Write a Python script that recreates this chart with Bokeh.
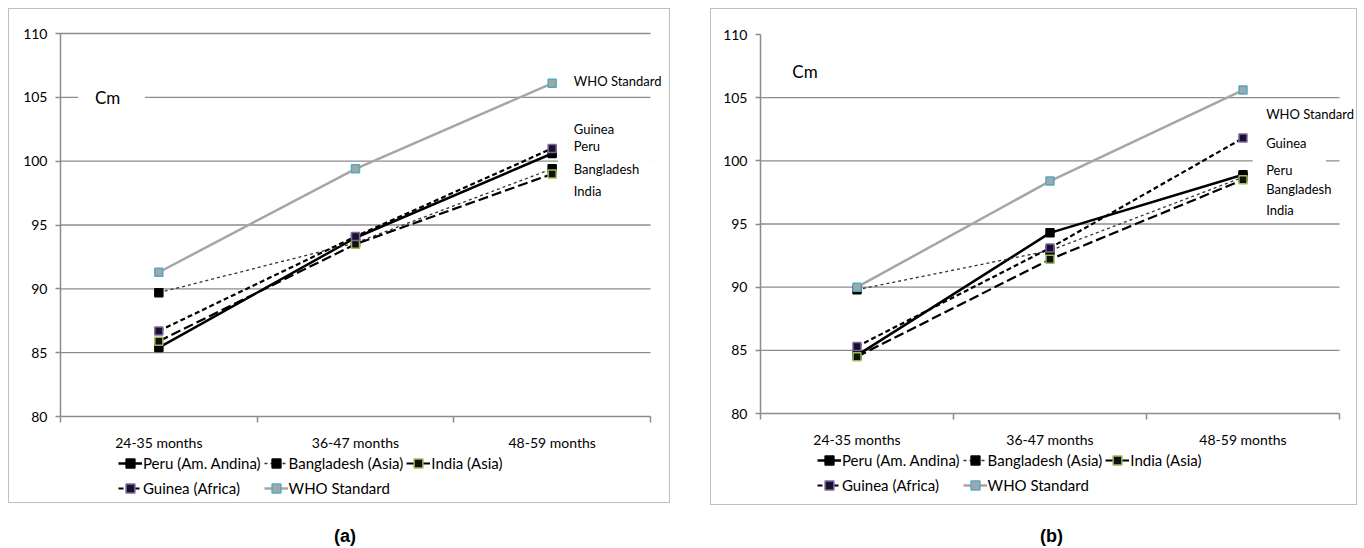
from bokeh.plotting import figure
from bokeh.models import (Range1d, FixedTicker, Legend, LegendItem, Label, BoxAnnotation,
                          Div, LinearAxis)
from bokeh.layouts import row, column
from bokeh.embed import file_html
from bokeh.resources import INLINE

categories = ["24-35 months", "36-47 months", "48-59 months"]
series_names = ["Peru (Am. Andina)", "Bangladesh (Asia)", "India (Asia)", "Guinea (Africa)", "WHO Standard"]
short_names = ["Peru", "Bangladesh", "India", "Guinea", "WHO Standard"]

# panel (a)
peru_a = [85.4, 94.0, 100.6]
bangladesh_a = [89.7, 93.6, 99.4]
india_a = [85.9, 93.5, 99.0]
guinea_a = [86.7, 94.1, 101.0]
who_a = [91.3, 99.4, 106.1]

# panel (b)
peru_b = [84.6, 94.3, 98.9]
bangladesh_b = [89.8, 92.9, 98.7]
india_b = [84.5, 92.2, 98.5]
guinea_b = [85.3, 93.1, 101.8]
who_b = [90.0, 98.4, 105.6]

y_ticks = [80, 85, 90, 95, 100, 105, 110]
Y_MIN, Y_MAX = 80, 110

FONT = "Lato"
GRID = "#8c8c8c"

styles = [
    dict(line_color="black", line_width=2.5, line_dash="solid",
         m_fill="black", m_line="black"),
    dict(line_color="#333333", line_width=1.3, line_dash="3 3",
         m_fill="black", m_line="black"),
    dict(line_color="black", line_width=2.2, line_dash="10 4",
         m_fill="#111111", m_line="#9BBB59"),
    dict(line_color="black", line_width=2.2, line_dash="5 3",
         m_fill="#15122a", m_line="#8064A2"),
    dict(line_color="#A6A6A6", line_width=2.5, line_dash="solid",
         m_fill="#A6A6A6", m_line="#4BACC6"),
]


def make_panel(data, width, height, ax_left, ax_right, ax_top, ax_bottom, grid_ticks,
               label_pos, label_x, cm_pos, cm_box, white_box, legend_loc):
    n = len(categories)
    # map the axis box (in canvas pixels) to data ranges so the frame fills the canvas
    ux = (ax_right - ax_left) / n
    uy = (ax_bottom - ax_top) / (Y_MAX - Y_MIN)
    xr = Range1d(-ax_left / ux, n + (width - ax_right) / ux)
    yr = Range1d(Y_MIN - (height - ax_bottom) / uy, Y_MAX + ax_top / uy)

    p = figure(width=width, height=height, output_backend="svg", toolbar_location=None,
               x_range=xr, y_range=yr, x_axis_location=None, y_axis_location=None,
               min_border=0, min_border_left=0, min_border_right=0, min_border_top=0,
               min_border_bottom=0,
               background_fill_color="white", border_fill_color="white",
               styles={"border": "1px solid #BFBFBF"})
    p.outline_line_color = None
    p.xgrid.visible = False
    p.ygrid.visible = False
    xs = [i + 0.5 for i in range(n)]

    # gridlines between the axis limits
    p.segment(x0=[0] * len(grid_ticks), x1=[n] * len(grid_ticks), y0=grid_ticks, y1=grid_ticks,
              line_color=GRID, line_width=1.3, level="underlay")

    xaxis = LinearAxis(fixed_location=Y_MIN, bounds=(0, n))
    xaxis.ticker = FixedTicker(ticks=xs, minor_ticks=list(range(n + 1)))
    xaxis.major_label_overrides = {x: c for x, c in zip(xs, categories)}
    xaxis.major_tick_line_color = None
    xaxis.major_tick_out = 0
    xaxis.major_tick_in = 0
    xaxis.minor_tick_line_color = GRID
    xaxis.minor_tick_line_width = 1.5
    xaxis.minor_tick_out = 6
    xaxis.minor_tick_in = 0
    xaxis.axis_line_color = GRID
    xaxis.axis_line_width = 1.5
    xaxis.major_label_standoff = 11
    xaxis.major_label_text_font = FONT
    xaxis.major_label_text_font_size = "14px"
    xaxis.major_label_text_color = "black"
    p.add_layout(xaxis, "below")

    yaxis = LinearAxis(fixed_location=0, bounds=(Y_MIN, Y_MAX))
    yaxis.ticker = FixedTicker(ticks=y_ticks)
    yaxis.minor_tick_line_color = None
    yaxis.major_tick_line_color = GRID
    yaxis.major_tick_line_width = 1.5
    yaxis.major_tick_out = 5
    yaxis.major_tick_in = 0
    yaxis.axis_line_color = GRID
    yaxis.axis_line_width = 1.5
    yaxis.major_label_standoff = 8
    yaxis.major_label_text_font = FONT
    yaxis.major_label_text_font_size = "14px"
    yaxis.major_label_text_color = "black"
    p.add_layout(yaxis, "left")

    # white patches hiding gridline parts (as in original)
    p.add_layout(BoxAnnotation(left=white_box[0], right=white_box[1], bottom=white_box[2],
                               top=white_box[3], fill_color="white", fill_alpha=1,
                               line_color=None, level="underlay"))
    if cm_box is not None:
        p.add_layout(BoxAnnotation(left=cm_box[0], right=cm_box[1], bottom=cm_box[2],
                                   top=cm_box[3], fill_color="white", fill_alpha=1,
                                   line_color=None, level="underlay"))

    items = []
    for name, ys, st in zip(series_names, data, styles):
        r1 = p.line(xs, ys, line_color=st["line_color"], line_width=st["line_width"],
                    line_dash=st["line_dash"])
        r2 = p.scatter(xs, ys, marker="square", size=8, fill_color=st["m_fill"],
                       line_color=st["m_line"], line_width=1.5)
        items.append(LegendItem(label=name, renderers=[r1, r2]))

    p.add_layout(Label(x=cm_pos[0], y=cm_pos[1], text="Cm", text_font=FONT,
                       text_font_size="17px", text_baseline="middle", text_align="left",
                       text_color="black"))

    for nm, ly in zip(short_names, label_pos):
        p.add_layout(Label(x=label_x, y=ly, text=nm, text_font=FONT, text_font_size="13px",
                           text_baseline="middle", text_align="left", text_color="black"))

    legend = Legend(items=items, orientation="horizontal", ncols=3, location=legend_loc,
                    label_text_font=FONT, label_text_font_size="15px",
                    label_text_color="black", glyph_width=24, glyph_height=22,
                    label_standoff=1, spacing=3, padding=0, margin=0,
                    border_line_color=None, background_fill_alpha=0, label_height=22)
    p.add_layout(legend, "center")
    return p


pa = make_panel([peru_a, bangladesh_a, india_a, guinea_a, who_a], 662, 495,
                51, 641, 24, 407,
                [85, 90, 95, 100, 105, 110],
                [101.15, 99.4, 97.7, 102.5, 106.3],
                2.61, (0.175, 105.0), (0.09, 0.43, 104.4, 105.6), (2.53, 3.0, 97.2, 103.0),
                (109, 5))
pb = make_panel([peru_b, bangladesh_b, india_b, guinea_b, who_b], 647, 497,
                49, 628, 25, 404,
                [85, 90, 95, 100, 105],
                [99.3, 97.8, 96.07, 101.45, 103.67],
                2.62, (0.165, 107.1), None, (2.55, 2.93, 98.6, 100.9),
                (106, 10))

lab_a = Div(text="(a)", width=664, height=36,
            styles={"text-align": "center", "font-weight": "bold", "font-size": "18px",
                    "font-family": "Arial, Liberation Sans", "padding-top": "14px"})
lab_b = Div(text="(b)", width=649, height=36,
            styles={"text-align": "center", "font-weight": "bold", "font-size": "18px",
                    "font-family": "Arial, Liberation Sans", "padding-top": "14px"})

layout = column(row(pa, pb, spacing=40), row(lab_a, lab_b, spacing=40), spacing=0,
                margin=(8, 0, 0, 8))

open("out.html", "w").write(file_html(layout, INLINE))
